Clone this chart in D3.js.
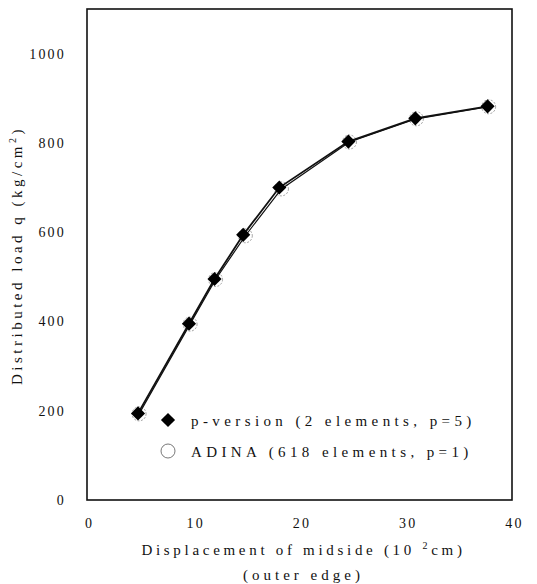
<!DOCTYPE html>
<meta charset="utf-8">
<script src="https://d3js.org/d3.v7.min.js"></script>
<style>
  body { margin: 0; background: #fff; }
  text { font-family: "Liberation Serif", "DejaVu Serif", serif; fill: #111; }
</style>
<div id="chart"></div>
<script>

// load vs displacement, p-version against ADINA
var pDisp  = [4.8, 9.6, 12.0, 14.7, 18.1, 24.6, 30.9, 37.7];
var pLoad  = [194, 395, 495, 594, 700, 803, 855, 882];
var adDisp = [4.9, 9.7, 12.1, 14.9, 18.3, 24.7, 31.0, 37.8];
var adLoad = [193, 394, 494, 592, 697, 802, 854, 881];

var xTicks = [0, 10, 20, 30, 40];
var yTicks = [0, 200, 400, 600, 800, 1000];

var legendNames = ["p-version (2 elements, p=5)", "ADINA (618 elements, p=1)"];

var W = 537, H = 584;
var margin = {top: 9, right: 25, bottom: 84, left: 87},
    width = W - margin.left - margin.right,
    height = H - margin.top - margin.bottom;

var svg = d3.select("#chart")
  .append("svg")
    .attr("width", W)
    .attr("height", H)
  .append("g")
    .attr("transform", "translate(" + margin.left + "," + margin.top + ")");

var x = d3.scaleLinear().domain([0, 40]).range([0, width]);
var y = d3.scaleLinear().domain([0, 1100]).range([height, 0]);

// axes (labels only, no tick marks)
var xAxis = svg.append("g")
  .attr("transform", "translate(0," + height + ")")
  .call(d3.axisBottom(x).tickValues(xTicks).tickFormat(d3.format("d")).tickSize(0).tickPadding(18));
var yAxis = svg.append("g")
  .call(d3.axisLeft(y).tickValues(yTicks).tickFormat(d3.format("d")).tickSize(0).tickPadding(21));
svg.selectAll(".domain").remove();
svg.selectAll(".tick text")
  .style("font-size", "14px")
  .style("letter-spacing", "2.2px")
  .attr("fill", "#111");
xAxis.selectAll(".tick text").attr("dx", "2");

// frame
svg.append("rect")
  .attr("x", 0).attr("y", 0)
  .attr("width", width).attr("height", height)
  .attr("fill", "none")
  .attr("stroke", "#111")
  .attr("stroke-width", 1.6);

var pData = pDisp.map(function(d, i) { return {x: d, y: pLoad[i]}; });
var adData = adDisp.map(function(d, i) { return {x: d, y: adLoad[i]}; });

var line = d3.line()
  .x(function(d) { return x(d.x); })
  .y(function(d) { return y(d.y); });

// ADINA circles (mostly hidden behind the diamonds)
svg.append("g")
  .selectAll("circle")
  .data(adData)
  .enter()
  .append("circle")
    .attr("cx", function(d) { return x(d.x); })
    .attr("cy", function(d) { return y(d.y); })
    .attr("r", 7)
    .attr("fill", "none")
    .attr("stroke", "#888")
    .attr("stroke-width", 0.8)
    .attr("stroke-dasharray", "2,1.5");

svg.append("path")
  .datum(adData)
  .attr("d", line)
  .attr("fill", "none")
  .attr("stroke", "#111")
  .attr("stroke-width", 1.2);

svg.append("path")
  .datum(pData)
  .attr("d", line)
  .attr("fill", "none")
  .attr("stroke", "#111")
  .attr("stroke-width", 1.8);

var diamond = d3.symbol().type(d3.symbolSquare).size(100);

svg.append("g")
  .selectAll("path")
  .data(pData)
  .enter()
  .append("path")
    .attr("d", diamond)
    .attr("transform", function(d) {
      return "translate(" + x(d.x) + "," + y(d.y) + ") rotate(45)";
    })
    .attr("fill", "#000");

// legend
var legend = svg.append("g").attr("transform", "translate(81,411)");
legend.append("path")
  .attr("d", diamond)
  .attr("transform", "translate(0,0) rotate(45)")
  .attr("fill", "#000");
legend.append("circle")
  .attr("cx", 0).attr("cy", 31)
  .attr("r", 7)
  .attr("fill", "none")
  .attr("stroke", "#555")
  .attr("stroke-width", 0.8);
legend.selectAll("text")
  .data(legendNames)
  .enter()
  .append("text")
    .attr("x", 23)
    .attr("y", function(d, i) { return 6 + i * 31; })
    .style("font-size", "15px")
    .style("letter-spacing", "4.4px")
    .text(function(d) { return d; });

// axis titles
var xt = svg.append("text")
  .attr("x", width / 2 + 4)
  .attr("y", height + 55)
  .attr("text-anchor", "middle")
  .style("font-size", "15px")
  .style("letter-spacing", "3.7px");
xt.append("tspan").text("Displacement of midside (10 ");
xt.append("tspan").attr("dy", -6).style("font-size", "10px").text("2");
xt.append("tspan").attr("dy", 6).text("cm)");

svg.append("text")
  .attr("x", width / 2 + 4)
  .attr("y", height + 80)
  .attr("text-anchor", "middle")
  .style("font-size", "15px")
  .style("letter-spacing", "4px")
  .text("(outer edge)");

var yt = svg.append("text")
  .attr("transform", "translate(" + (-65) + "," + (height / 2 + 1) + ") rotate(-90)")
  .attr("text-anchor", "middle")
  .style("font-size", "15px")
  .style("letter-spacing", "3.5px");
yt.append("tspan").text("Distributed load q (kg/cm");
yt.append("tspan").attr("dy", -6).style("font-size", "10px").text("2");
yt.append("tspan").attr("dy", 6).text(")");

</script>
